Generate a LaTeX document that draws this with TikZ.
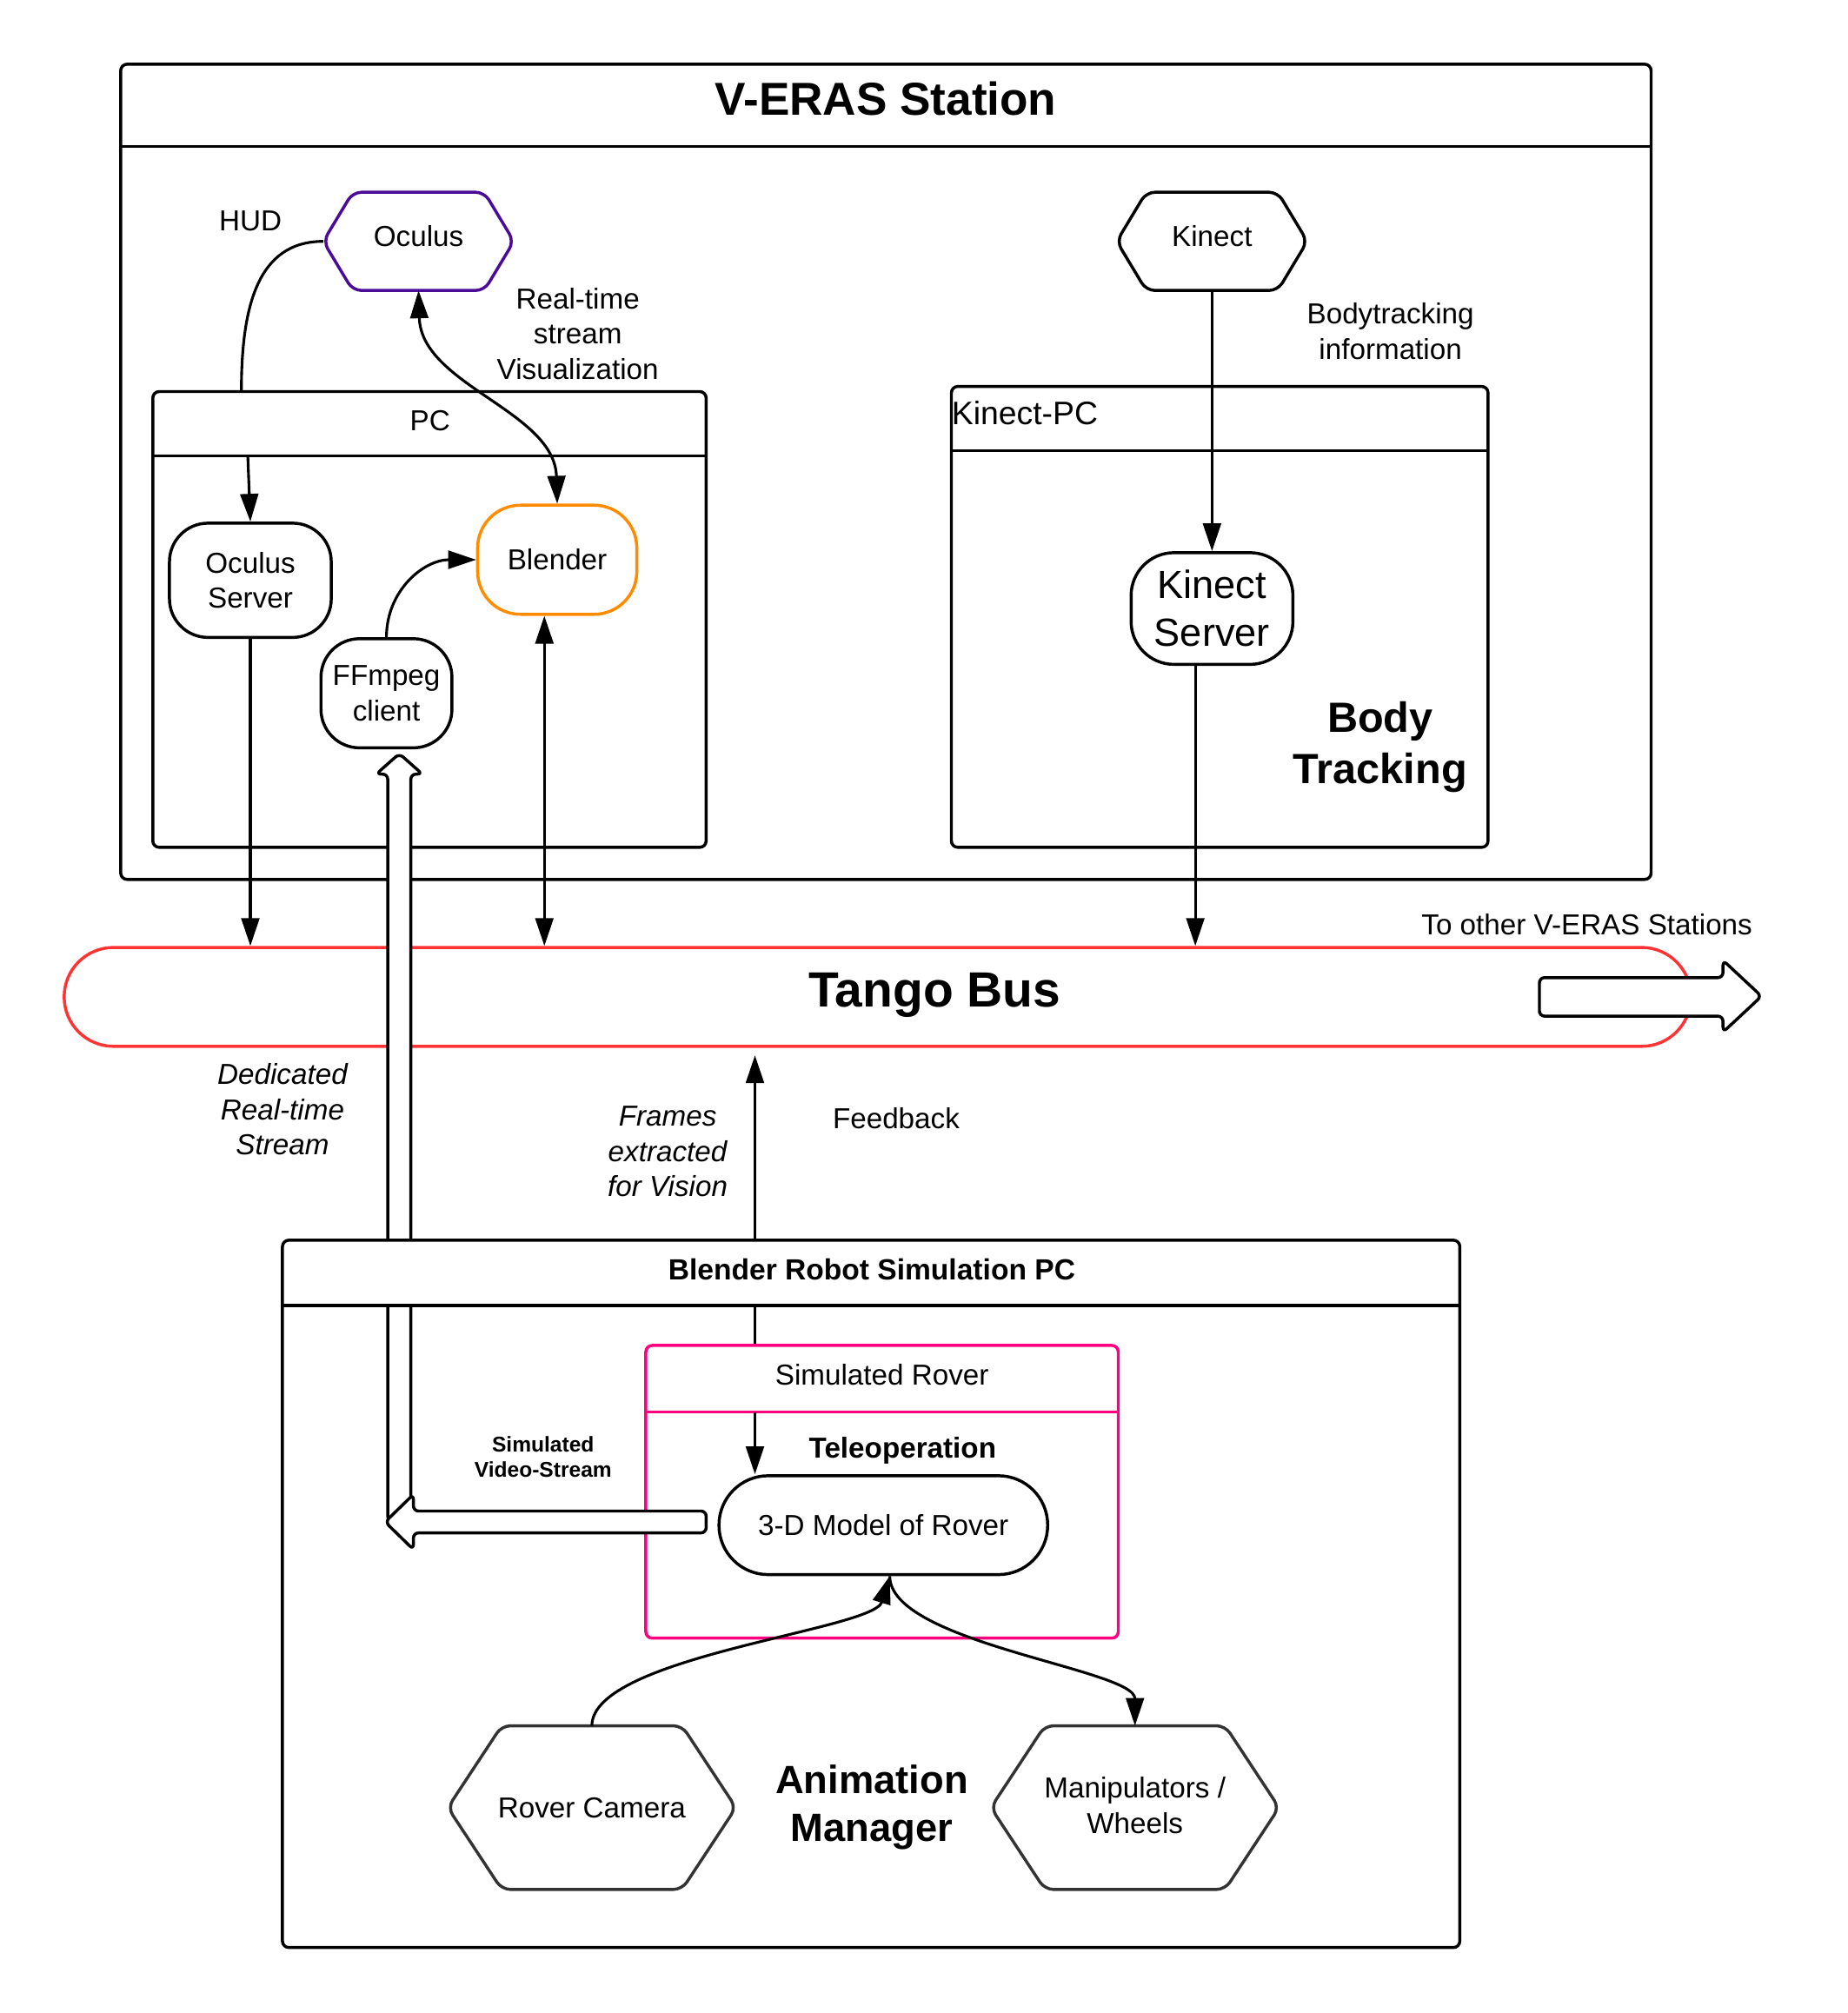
\documentclass[tikz,border=0pt]{standalone}
\usepackage{fontspec}
\setmainfont{Liberation Sans}
\usetikzlibrary{arrows.meta}

\definecolor{ocpurple}{RGB}{74,12,150}
\definecolor{blorange}{RGB}{255,140,0}
\definecolor{busred}{RGB}{255,51,51}
\definecolor{roverpink}{RGB}{255,0,128}
\definecolor{hexgray}{RGB}{51,51,51}

\newcommand{\fsz}[2]{\fontsize{#1}{#2}\selectfont}
% hexagon round a node: name, slant, colour
\newcommand{\hexa}[3]{%
  \draw[#3,line width=2pt,rounded corners=2mm] (#1.west)
    -- ([xshift=#2]#1.north west) -- ([xshift=-#2]#1.north east)
    -- (#1.east) -- ([xshift=-#2]#1.south east)
    -- ([xshift=#2]#1.south west) -- cycle;}

\begin{document}
\begin{tikzpicture}[x=0.3mm,y=-0.3mm,
  every node/.style={font=\fsz{19.2}{23.5}},
  boxframe/.style={line width=2pt,rounded corners=1.5mm},
  roundbox/.style={draw,line width=2pt,align=center,inner sep=0pt},
  hexbox/.style={inner sep=0pt,align=center},
  conn/.style={line width=1.8pt},
  fatarrow/.style={draw,fill=white,line width=2pt,rounded corners=1.2mm},
  >={Triangle[length=6.5mm,width=4.2mm]}]
\useasboundingbox (0,0) rectangle (1439,1568);

% V-ERAS station
\draw[boxframe] (94,50) rectangle (1286,685);
\draw[boxframe] (94,114) -- (1286,114);
\node (station) [font=\fsz{30.7}{36}\bfseries] at (690,77) {V-ERAS Station};

\draw[boxframe] (119,305) rectangle (550,660);
\draw[boxframe] (119,355) -- (550,355);
\node (pclbl) at (335,328) {PC};

\draw[boxframe] (741,301) rectangle (1159,660);
\draw[boxframe] (741,351) -- (1159,351);
\node (kpclbl) [anchor=west,inner sep=0pt,font=\fsz{21.6}{26}] at (741,322) {Kinect-PC};

\node (oculus) [hexbox,text depth=2.4mm,minimum width=44.4mm,minimum height=22.8mm] at (326,188) {Oculus};
\hexa{oculus}{6.9mm}{ocpurple}
\node (kinect) [hexbox,text depth=2.4mm,minimum width=44.4mm,minimum height=22.8mm] at (944,188) {Kinect};
\hexa{kinect}{6.9mm}{black}

\node (oserver) [roundbox,rounded corners=9mm,minimum width=37.8mm,minimum height=26.7mm] at (195,452) {Oculus\\Server};
\node (blender) [roundbox,draw=blorange,rounded corners=10mm,minimum width=37.2mm,minimum height=25.5mm] at (434,436) {Blender};
\node (ffmpeg) [roundbox,rounded corners=9mm,minimum width=30.6mm,minimum height=25.5mm] at (301,540) {FFmpeg\\client};
\node (kserver) [roundbox,rounded corners=10mm,minimum width=37.8mm,minimum height=26.1mm,font=\fsz{26.1}{31.6}] at (944,474) {Kinect\\Server};

\node (hud) at (195,172) {HUD};
\node (rtlbl) [align=center] at (450,260) {Real-time\\stream\\Visualization};
\node (btlbl) [align=center] at (1083,258) {Bodytracking\\information};
\node (bodytrk) [align=center,font=\fsz{28.1}{34.1}\bfseries] at (1075,582) {Body\\Tracking};

\coordinate (hudend) at (188,305);
\coordinate (pchead) at (193,355);
\draw[conn] (oculus.west) .. controls (200,188) and (188,240) .. (hudend);
\draw[conn,->] (pchead) -- (oserver.north);
\draw[conn,<->] (oculus.south) .. controls (328,300) and (432,320) .. (blender.north);
\draw[conn,->] (ffmpeg.north) .. controls (301,460) and (330,436) .. (blender.west);
\draw[conn,->] (kinect.south) -- (kserver.north);

% Tango bus
\node (bus) [draw=busred,line width=2pt,rounded corners=11.5mm,minimum width=380.1mm,minimum height=23.1mm] at (683.5,776.5) {};
\node (buslbl) [font=\fsz{32.9}{40}\bfseries] at (728,775) {Tango Bus};
\node (otherlbl) at (1236,720) {To other V-ERAS Stations};

\draw[conn,->] (oserver.south) -- (oserver.south |- bus.north);
\draw[conn,<->] ([xshift=-3mm]blender.south) -- ([xshift=-3mm]blender.south |- bus.north);
\draw[conn,->] ([xshift=-3.9mm]kserver.south) -- ([xshift=-3.9mm]kserver.south |- bus.north);

\node (dedlbl) [align=center,font=\fsz{19.2}{23.5}\itshape] at (220,864) {Dedicated\\Real-time\\Stream};
\node (frmlbl) [align=center,font=\fsz{19.2}{23.5}\itshape] at (520,897) {Frames\\extracted\\for Vision};
\node (fbklbl) at (698,871) {Feedback};

\coordinate (fbtip) at (588,822);
\coordinate (rovtop) at (588,1048);
\draw[conn,->] (rovtop) -- (fbtip);

% video stream up to the ffmpeg client
\draw[fatarrow] (302,1185) -- (302,603) -- (293,603) -- (311,587) -- (329,603) -- (320,603) -- (320,1185) -- cycle;

% Blender robot simulation PC
\fill[white] (220,966) rectangle (1137,1017);
\draw[boxframe] (220,966) rectangle (1137,1517);
\draw[boxframe] (220,1017) -- (1137,1017);
\node (simpc) [font=\fsz{19.4}{23.5}\bfseries] at (679,989) {Blender Robot Simulation PC};

\draw[boxframe,roverpink] (503,1048) rectangle (871,1276);
\draw[boxframe,roverpink] (503,1100) -- (871,1100);
\node (roverlbl) at (687,1071) {Simulated Rover};
\node (teleop) [font=\fsz{19.2}{23.5}\bfseries] at (703,1130) {Teleoperation};
\node (model) [roundbox,rounded corners=11.5mm,minimum width=76.8mm,minimum height=23.1mm] at (688,1188) {3-D Model of Rover};
\coordinate (rovhead) at (588,1100);
\draw[conn,->] (rovhead) -- (rovhead |- model.north);

\draw[fatarrow] (550,1177) -- (322,1177) -- (322,1164) -- (300,1185.5) -- (322,1207) -- (322,1194) -- (550,1194) -- cycle;
\node (svslbl) [align=center,font=\fsz{14.2}{17}\bfseries] at (423,1135) {Simulated\\Video-Stream};

\node (camera) [hexbox,minimum width=67.2mm,minimum height=38.1mm] at (461,1408) {Rover Camera};
\hexa{camera}{12.6mm}{hexgray}
\node (manip) [hexbox,text depth=1.2mm,minimum width=67.2mm,minimum height=38.1mm] at (884,1408) {Manipulators /\\Wheels};
\hexa{manip}{12.6mm}{hexgray}
\node (animmgr) [align=center,font=\fsz{26.2}{31.6}\bfseries] at (679,1408) {Animation\\Manager};

\draw[conn,->] (camera.north) .. controls (461,1290) and (680,1270) .. ([xshift=1.5mm]model.south);
\draw[conn,->] ([xshift=1.5mm]model.south) .. controls (693,1280) and (884,1300) .. (manip.north);

% to the other stations
\draw[fatarrow] (1199,761.5) -- (1342,761.5) -- (1342,748) -- (1372,776) -- (1342,804) -- (1342,791.5) -- (1199,791.5) -- cycle;
\end{tikzpicture}
\end{document}
